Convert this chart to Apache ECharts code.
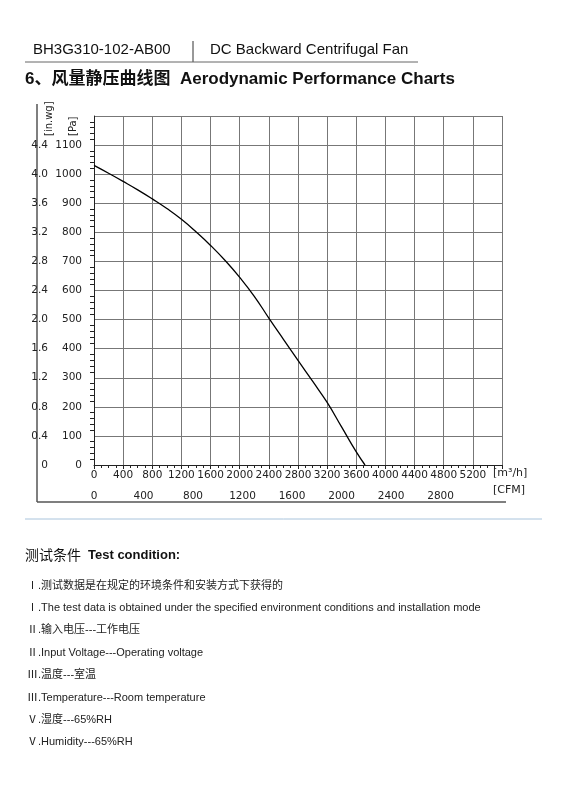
<!DOCTYPE html>
<html><head><meta charset="utf-8">
<script src="https://cdn.jsdelivr.net/npm/echarts@6/dist/echarts.min.js"></script>
<style>html,body{margin:0;padding:0;background:#fff}#c{width:568px;height:800px}</style>
</head><body><div id="c"></div>
<script>
const flowM3h = [0, 200, 400, 600, 800, 1000, 1200, 1400, 1600, 1800, 2000, 2200, 2400, 2600, 2800, 3000, 3200, 3400, 3600, 3720];
const pressurePa = [1030, 1003, 975, 946, 915, 882, 845, 802, 755, 703, 645, 580, 505, 432, 360, 288, 215, 130, 45, 0];
const paTicks = [0,100,200,300,400,500,600,700,800,900,1000,1100];
const inwgTicks = ['0','0.4','0.8','1.2','1.6','2.0','2.4','2.8','3.2','3.6','4.0','4.4'];
const conditions = [
  'Ⅰ.测试数据是在规定的环境条件和安装方式下获得的',
  'Ⅰ.The test data is obtained under the specified environment conditions and installation mode',
  'Ⅱ.输入电压---工作电压',
  'Ⅱ.Input Voltage---Operating voltage',
  'Ⅲ.温度---室温',
  'Ⅲ.Temperature---Room temperature',
  'Ⅴ.湿度---65%RH',
  'Ⅴ.Humidity---65%RH'
];
const F = 'Liberation Sans, Arial, "Noto Sans CJK SC", sans-serif';
const V = 'DejaVu Sans, Verdana, sans-serif';
const chart = echarts.init(document.getElementById('c'));
const graphic = [
  {type:'text', left:33, top:42, style:{text:'BH3G310-102-AB00', font:'15px '+F, fill:'#111'}},
  {type:'line', shape:{x1:193,y1:41,x2:193,y2:62}, style:{stroke:'#333',lineWidth:1}},
  {type:'text', left:210, top:42, style:{text:'DC Backward Centrifugal Fan', font:'15px '+F, fill:'#111'}},
  {type:'line', shape:{x1:25,y1:62,x2:418,y2:62}, style:{stroke:'#666',lineWidth:1}},
  {type:'text', left:25, top:71, style:{text:'6、风量静压曲线图  Aerodynamic Performance Charts', font:'bold 17px '+F, fill:'#111'}},
  {type:'line', shape:{x1:37,y1:104,x2:37,y2:502}, style:{stroke:'#555',lineWidth:1.5}},
  {type:'line', shape:{x1:37,y1:502,x2:506,y2:502}, style:{stroke:'#555',lineWidth:1.5}},
  {type:'text', rotation:Math.PI/2, x:44, y:136, style:{text:'[in.wg]', font:'10px '+V, fill:'#222'}},
  {type:'text', rotation:Math.PI/2, x:68, y:136, style:{text:'[Pa]', font:'10px '+V, fill:'#222'}},
  {type:'text', left:493, top:468, style:{text:'[m³/h]', font:'11px '+V, fill:'#222'}},
  {type:'text', left:493, top:485, style:{text:'[CFM]', font:'11px '+V, fill:'#222'}},
  {type:'line', shape:{x1:25,y1:519,x2:542,y2:519}, style:{stroke:'#a9c4dc',lineWidth:1}},
  {type:'text', left:25, top:549, style:{text:'测试条件  ', font:'14px '+F, fill:'#111'}},
  {type:'text', left:88, top:549, style:{text:'Test condition:', font:'bold 13px '+F, fill:'#111'}}
];
conditions.forEach((t,i)=>graphic.push({type:'text', left:27, top:580+i*22.4, style:{text:t, font:'11px '+F, fill:'#222'}}));
chart.setOption({
  animation:false,
  grid:{left:94, top:116, width:408, height:349},
  xAxis:[
    {type:'value', min:0, max:5600, interval:400, position:'bottom',
     axisLine:{lineStyle:{color:'#222'}}, axisTick:{show:true,inside:false,length:4,lineStyle:{color:'#222'}},
     minorTick:{show:true,splitNumber:4,length:3,lineStyle:{color:'#222'}},
     splitLine:{lineStyle:{color:'#777',width:1}},
     axisLabel:{showMaxLabel:false, margin:5, color:'#222', fontFamily:V, fontSize:10.5,
       formatter:v=>v>=5600?'':String(v)}},
    {type:'value', min:0, max:5600/1.699, interval:400, position:'bottom', offset:18,
     axisLine:{show:false}, axisTick:{show:false}, splitLine:{show:false},
     axisLabel:{showMaxLabel:false, color:'#222', fontFamily:V, fontSize:10.5,
       formatter:v=>v>2800?'':String(v)}}
  ],
  yAxis:[
    {type:'value', min:0, max:1200, interval:100, position:'left',
     axisLine:{show:true,lineStyle:{color:'#222'}}, axisTick:{show:false},
     minorTick:{show:true,splitNumber:5,length:4,lineStyle:{color:'#222'}},
     splitLine:{lineStyle:{color:'#777',width:1}},
     axisLabel:{margin:12, color:'#222', fontFamily:V, fontSize:10.5,
       formatter:v=>paTicks.includes(v)?String(v):''}},
    {type:'value', min:0, max:4.8, interval:0.4, position:'left', offset:38,
     axisLine:{show:false}, axisTick:{show:false}, splitLine:{show:false},
     axisLabel:{color:'#222', fontFamily:V, fontSize:10.5,
       formatter:v=>{const i=Math.round(v/0.4);return i<inwgTicks.length?inwgTicks[i]:'';}}}
  ],
  series:[{type:'line', xAxisIndex:0, yAxisIndex:0, smooth:true, symbol:'none',
    lineStyle:{color:'#000',width:1.3},
    data:flowM3h.map((x,i)=>[x,pressurePa[i]])}],
  graphic
});
</script></body></html>
